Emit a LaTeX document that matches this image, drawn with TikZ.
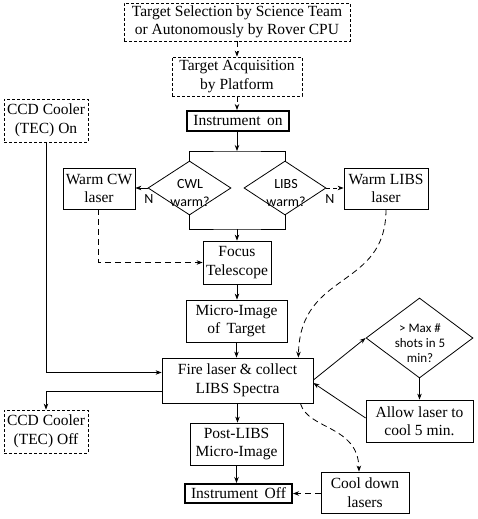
\documentclass[tikz,border=0pt]{standalone}
\usepackage{fontspec}
\setmainfont{Liberation Serif}
\newfontfamily\calib{Carlito}
\usetikzlibrary{shapes.geometric,arrows.meta,calc}
\begin{document}
\begin{tikzpicture}[x=1pt,y=-1pt,
  every node/.style={font=\fontsize{15.5}{18.5}\selectfont, align=center, inner sep=0pt},
  box/.style={draw, line width=0.8pt},
  dbox/.style={draw, line width=0.8pt, dash pattern=on 3pt off 2pt},
  tbox/.style={draw, line width=2pt},
  dia/.style={draw, diamond, line width=0.8pt, inner sep=0pt},
  dtext/.style={font=\calib\fontsize{14}{18.4}\selectfont},
  mtext/.style={font=\calib\fontsize{13}{15}\selectfont},
  arr/.style={line width=0.8pt, -{Stealth[length=6pt,width=4.5pt]}},
  darr/.style={arr, dash pattern=on 6pt off 4pt},
  ln/.style={line width=0.8pt}]
\useasboundingbox (0,0) rectangle (477,519);
\fill[white] (0,0) rectangle (477,519);

% nodes
\node[dbox, minimum width=226pt, minimum height=38pt] (sel) at (237,22) {Target Selection by Science Team\\or Autonomously by Rover CPU};
\node[dbox, minimum width=130pt, minimum height=39pt] (acq) at (237,76.5) {Target Acquisition\\by Platform};
\node[tbox, minimum width=102pt, minimum height=20pt] (on) at (238,121) {Instrument\, on};
\node[dbox, minimum width=84pt, minimum height=43pt] (ccdon) at (46,120.5) {CCD Cooler\\(TEC) On};
\node[box, minimum width=72pt, minimum height=41pt] (warmcw) at (99,188.5) {Warm CW\\laser};
\node[dia, minimum width=83pt, minimum height=54pt] (cwl) at (189.5,188) {};
\node[dtext] (cwlt) at (190,193) {CWL\\warm?};
\node[dia, minimum width=82pt, minimum height=54pt] (libs) at (285,188) {};
\node[dtext] (libst) at (286,193) {LIBS\\warm?};
\node[box, minimum width=84pt, minimum height=41pt] (warmlibs) at (386,188.5) {Warm LIBS\\laser};
\node[dtext] (n1) at (149,199) {N};
\node[dtext] (n2) at (330,199) {N};
\node[box, minimum width=68pt, minimum height=43pt] (focus) at (237,262.5) {Focus\\Telescope};
\node[box, minimum width=101pt, minimum height=42pt] (micro) at (236.5,321) {Micro-Image\\of\, Target};
\node[box, minimum width=151pt, minimum height=45pt] (fire) at (237.5,380.5) {Fire laser \& collect\\LIBS Spectra};
\node[dia, minimum width=107pt, minimum height=80pt] (maxd) at (419.5,338) {};
\node[mtext] (maxt) at (420,343.5) {> Max \#\\shots in 5\\min?};
\node[box, minimum width=107pt, minimum height=42pt] (allow) at (419.5,421) {Allow laser to\\cool 5 min.};
\node[dbox, minimum width=84pt, minimum height=43pt] (ccdoff) at (46,431.5) {CCD Cooler\\(TEC) Off};
\node[box, minimum width=93pt, minimum height=42pt] (post) at (236.5,444) {Post-LIBS\\Micro-Image};
\node[tbox, minimum width=107pt, minimum height=19pt] (off) at (238.5,493.5) {Instrument\, Off};
\node[box, minimum width=88pt, minimum height=41pt] (cool) at (365,492.5) {Cool down\\lasers};

% connectors
\coordinate (split) at (237,151);
\coordinate (join) at (237,229);
\draw[darr] (sel.south) -- (sel.south |- acq.north);
\draw[darr] (acq.south) -- (acq.south |- on.north);
\draw[arr] (on.south -| split) -- (split);
\draw[ln] (cwl.north) |- (split) -| (libs.north);
\draw[ln] (cwl.south) |- (join) -| (libs.south);
\draw[arr] (join) -- (join |- focus.north);
\draw[arr] (cwl.west) -- (warmcw.east |- cwl.west);
\draw[arr, dash pattern=on 4pt off 3pt] (libs.east) -- (warmlibs.west |- libs.east);
\draw[darr] ([xshift=-1pt]warmcw.south) |- (focus.west);
\draw[arr] (focus.south) -- (focus.south |- micro.north);
\draw[arr] (micro.south) -- (micro.south |- fire.north);
\draw[darr] (warmlibs.south) .. controls (386,290) and (300,270) .. ($(fire.north east)+(-15,0)$);
\draw[arr] ($(fire.east)+(0,-0.5)$) -- (maxd.west);
\draw[arr] (maxd.south) -- (maxd.south |- allow.north);
\draw[arr] ($(allow.west)+(0,-3)$) -- ($(fire.east)+(0,2.5)$);
\draw[arr] (ccdon.south) |- ($(fire.west)+(0,-8)$);
\draw[arr] ($(fire.west)+(0,10.5)$) -| (ccdoff.north);
\draw[arr] (fire.south) -- (fire.south |- post.north);
\draw[arr] (post.south) -- (post.south |- off.north);
\draw[darr] ($(fire.south east)+(-13,0)$) .. controls (308,430) and (358,425) .. ($(cool.north)+(-6,0)$);
\draw[darr] (off.east -| cool.west) -- (off.east);
\end{tikzpicture}
\end{document}
